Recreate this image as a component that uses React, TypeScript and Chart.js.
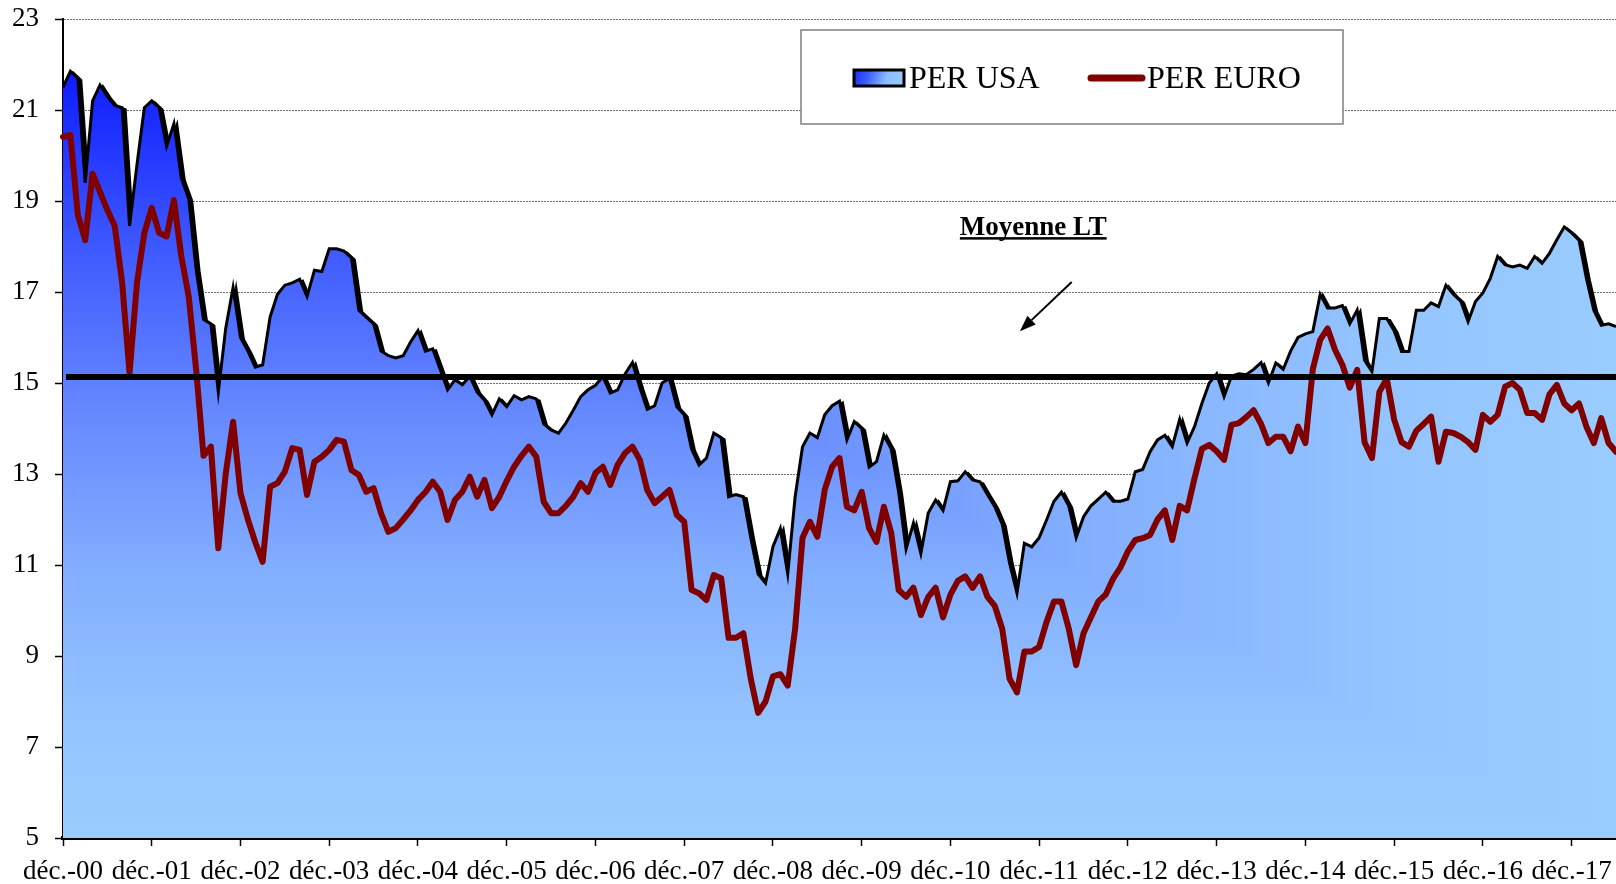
import React, { useEffect, useRef } from 'react';
import { Chart, registerables } from 'chart.js';

Chart.register(...registerables);

const FONT = "'Liberation Serif', 'Times New Roman', serif";

const MONTHS_FR = ['janv.', 'févr.', 'mars', 'avr.', 'mai', 'juin', 'juil.', 'août', 'sept.', 'oct.', 'nov.', 'déc.'];

// PER USA, monthly from déc. 2000
const PER_USA = [
  21.5, 21.85, 21.7, 19.4, 21.2, 21.55, 21.3, 21.1, 21.05, 18.45, 19.8, 21.05,
  21.2, 21.05, 20.2, 20.7, 19.5, 19.05, 17.5, 16.4, 16.3, 14.8, 16.2, 17.1,
  16.0, 15.7, 15.35, 15.4, 16.45, 16.95, 17.15, 17.2, 17.28, 16.9, 17.48, 17.45,
  17.95, 17.95, 17.9, 17.75, 16.6, 16.45, 16.3, 15.7, 15.6, 15.55, 15.6, 15.9,
  16.15, 15.7, 15.75, 15.3, 14.85, 15.07, 14.96, 15.15, 14.8, 14.62, 14.3, 14.65,
  14.48, 14.72, 14.63, 14.7, 14.65, 14.1, 13.97, 13.9, 14.12, 14.4, 14.7, 14.85,
  14.95, 15.14, 14.78, 14.85, 15.2, 15.45, 14.9, 14.42, 14.5, 15.0, 15.1, 14.48,
  14.3, 13.55, 13.2, 13.35, 13.9, 13.8, 12.5, 12.55, 12.5, 11.6, 10.8, 10.6,
  11.4, 11.8, 10.8, 12.5, 13.6, 13.9, 13.8, 14.3, 14.5, 14.6, 13.75, 14.15,
  14.0, 13.15, 13.27, 13.85, 13.55, 12.6, 11.35, 11.92, 11.25, 12.14, 12.43, 12.2,
  12.83, 12.85, 13.05, 12.87, 12.83, 12.55, 12.28, 11.9, 11.04, 10.38, 11.48, 11.4,
  11.6, 11.99, 12.4, 12.6, 12.3, 11.6, 12.06, 12.3, 12.45, 12.6, 12.4, 12.4,
  12.45, 13.05, 13.1, 13.49, 13.75, 13.85, 13.6, 14.2, 13.68, 14.04, 14.55, 15.0,
  15.2, 14.7, 15.15, 15.2, 15.18, 15.3, 15.45, 15.0, 15.44, 15.3, 15.7, 16.0,
  16.08, 16.13, 16.95, 16.65, 16.65, 16.7, 16.3, 16.6, 15.5, 15.25, 16.42, 16.42,
  16.15, 15.69, 15.69, 16.6, 16.6, 16.76, 16.68, 17.15, 16.95, 16.8, 16.35, 16.79,
  16.98, 17.3, 17.78, 17.6, 17.55, 17.59, 17.52, 17.78, 17.63, 17.85, 18.15, 18.43,
  18.3, 18.14, 17.3, 16.6, 16.27, 16.3, 16.24,
];

// PER EURO, monthly from déc. 2000
const PER_EURO = [
  20.41, 20.45, 18.7, 18.14, 19.6, 19.2, 18.8, 18.45, 17.2, 15.22, 17.2, 18.3,
  18.85, 18.3, 18.22, 19.02, 17.78, 16.9, 15.3, 13.4, 13.6, 11.37, 13.0, 14.15,
  12.58, 12.0, 11.5, 11.07, 12.72, 12.8, 13.05, 13.57, 13.53, 12.54, 13.27, 13.38,
  13.53, 13.75, 13.71, 13.09, 12.98, 12.61, 12.69, 12.14, 11.73, 11.81, 12.0, 12.2,
  12.43, 12.6, 12.83, 12.61, 11.99, 12.43, 12.61, 12.94, 12.5, 12.87, 12.25, 12.5,
  12.85, 13.16, 13.4, 13.6, 13.38, 12.39, 12.14, 12.14, 12.3, 12.5, 12.8, 12.61,
  13.02, 13.16, 12.76, 13.2, 13.46, 13.6, 13.31, 12.65, 12.36, 12.5, 12.65, 12.1,
  11.95, 10.45, 10.38, 10.23, 10.78, 10.71, 9.4, 9.4, 9.5, 8.5, 7.75, 8.0,
  8.55, 8.6, 8.35, 9.6, 11.6, 11.95, 11.62, 12.65, 13.16, 13.35, 12.28, 12.2,
  12.61, 11.81, 11.51, 12.28, 11.7, 10.45, 10.3, 10.5, 9.9, 10.3, 10.5, 9.85,
  10.35, 10.65, 10.75, 10.5, 10.75, 10.3, 10.1, 9.6, 8.5, 8.2, 9.1, 9.1,
  9.2, 9.75, 10.2, 10.2, 9.6, 8.8, 9.5, 9.85, 10.2, 10.35, 10.7, 10.95,
  11.3, 11.55, 11.59, 11.66, 12.0, 12.2, 11.55, 12.3, 12.2, 12.9, 13.55, 13.64,
  13.5, 13.31, 14.08, 14.12, 14.25, 14.4, 14.1, 13.68, 13.82, 13.82, 13.5, 14.04,
  13.68, 15.3, 15.95, 16.2, 15.73, 15.4, 14.9, 15.29, 13.7, 13.35, 14.8, 15.1,
  14.2, 13.7, 13.6, 13.95, 14.1, 14.26, 13.27, 13.93, 13.9, 13.82, 13.7, 13.53,
  14.3, 14.15, 14.3, 14.92, 15.0, 14.85, 14.34, 14.34, 14.19, 14.75, 14.96, 14.55,
  14.4, 14.55, 14.04, 13.68, 14.23, 13.68, 13.49,
];

const MOYENNE_LT = 15.13;
const Y_MIN = 5;
const Y_MAX = 23;
const Y_STEP = 2;
const LABEL_EVERY = 12;

const LABELS = PER_USA.map((_, i) => {
  const k = 11 + i;
  const yr = (2000 + Math.floor(k / 12)) % 100;
  return `${MONTHS_FR[k % 12]}-${String(yr).padStart(2, '0')}`;
});

const SERIES_NAMES = ['PER USA', 'PER EURO'];
const NOTE_TEXT = 'Moyenne LT';

// gradient colour stops (t from top-left corner to far edges)
const FILL_STOPS: [number, string][] = [
  [0, 'rgb(14,28,255)'],
  [0.25, 'rgb(66,94,255)'],
  [0.45, 'rgb(102,138,255)'],
  [0.65, 'rgb(130,174,255)'],
  [0.85, 'rgb(148,196,255)'],
  [1, 'rgb(153,204,255)'],
];

let patternCache: { key: string; pat: CanvasPattern | string } | null = null;

function areaFill(chart: any): CanvasPattern | string {
  const area = chart.chartArea;
  if (!area || !chart.scales || !chart.scales.y) return 'rgb(153,204,255)';
  const ys = chart.scales.y;
  const T = ys.getPixelForValue(Math.max(...PER_USA));
  const L = area.left, R = area.right, B = area.bottom;
  const key = [L, R, B, T, chart.width, chart.height].join(',');
  if (patternCache && patternCache.key === key) return patternCache.pat;
  const off = document.createElement('canvas');
  off.width = chart.width;
  off.height = chart.height;
  const g = off.getContext('2d')!;
  const vg = g.createLinearGradient(0, T, 0, B);
  FILL_STOPS.forEach(([t, c]) => vg.addColorStop(t, c));
  g.fillStyle = vg;
  g.fillRect(0, 0, off.width, off.height);
  g.save();
  g.beginPath();
  g.moveTo(L, T);
  g.lineTo(R, B);
  g.lineTo(off.width + 10, B);
  g.lineTo(off.width + 10, -10);
  g.lineTo(L, -10);
  g.closePath();
  g.clip();
  const hg = g.createLinearGradient(L, 0, R, 0);
  FILL_STOPS.forEach(([t, c]) => hg.addColorStop(t, c));
  g.fillStyle = hg;
  g.fillRect(0, 0, off.width, off.height);
  g.restore();
  const pat = chart.ctx.createPattern(off, 'no-repeat') || 'rgb(153,204,255)';
  patternCache = { key, pat };
  return pat;
}

const decorPlugin = {
  id: 'decor',
  beforeDatasetsDraw(chart: any) {
    // shadow of the PER USA area
    const meta = chart.getDatasetMeta(0);
    const pts = meta.data;
    if (!pts || !pts.length) return;
    const { ctx, chartArea } = chart;
    const dx = 3, dy = 2;
    ctx.save();
    ctx.beginPath();
    ctx.rect(chartArea.left, chartArea.top - 10, chartArea.right - chartArea.left, chartArea.bottom - chartArea.top + 10);
    ctx.clip();
    ctx.beginPath();
    pts.forEach((p: any, i: number) => {
      if (i === 0) ctx.moveTo(p.x + dx, p.y + dy);
      else ctx.lineTo(p.x + dx, p.y + dy);
    });
    ctx.lineWidth = 3;
    ctx.strokeStyle = '#000';
    ctx.stroke();
    ctx.lineTo(pts[pts.length - 1].x + dx, chartArea.bottom);
    ctx.lineTo(pts[0].x + dx, chartArea.bottom);
    ctx.closePath();
    ctx.fillStyle = '#000';
    ctx.fill();
    ctx.restore();
  },
  afterDatasetsDraw(chart: any) {
    const { ctx, chartArea } = chart;
    const xs = chart.scales.x;
    const ys = chart.scales.y;
    // long-term average line
    const yAvg = ys.getPixelForValue(MOYENNE_LT);
    ctx.save();
    ctx.strokeStyle = '#000';
    ctx.lineWidth = 6;
    ctx.beginPath();
    ctx.moveTo(chartArea.left + 3, yAvg);
    ctx.lineTo(chartArea.right, yAvg);
    ctx.stroke();

    // label
    const tx = xs.getPixelForValue(131.2);
    const ty = ys.getPixelForValue(18.25);
    ctx.font = `bold 27px ${FONT}`;
    ctx.textAlign = 'center';
    ctx.textBaseline = 'alphabetic';
    ctx.fillStyle = '#000';
    ctx.fillText(NOTE_TEXT, tx, ty);
    const w = ctx.measureText(NOTE_TEXT).width;
    ctx.fillRect(tx - w / 2, ty + 2, w, 2.5);

    // arrow
    const x1 = xs.getPixelForValue(136.4), y1 = ys.getPixelForValue(17.22);
    const x2 = xs.getPixelForValue(129.4), y2 = ys.getPixelForValue(16.14);
    const len = Math.hypot(x2 - x1, y2 - y1);
    const ux = (x2 - x1) / len, uy = (y2 - y1) / len;
    const head = 16, half = 6;
    const bx = x2 - ux * head, by = y2 - uy * head;
    ctx.lineWidth = 2;
    ctx.beginPath();
    ctx.moveTo(x1, y1);
    ctx.lineTo(bx, by);
    ctx.stroke();
    ctx.beginPath();
    ctx.moveTo(x2, y2);
    ctx.lineTo(bx - uy * half, by + ux * half);
    ctx.lineTo(bx + uy * half, by - ux * half);
    ctx.closePath();
    ctx.fill();
    ctx.restore();
  },
  afterDraw(chart: any) {
    const { ctx } = chart;
    ctx.save();
    // legend box
    ctx.fillStyle = '#fff';
    ctx.fillRect(801, 30, 542, 94);
    ctx.strokeStyle = '#7f7f7f';
    ctx.lineWidth = 1.5;
    ctx.strokeRect(801, 30, 542, 94);
    // swatch
    const sg = ctx.createLinearGradient(853, 70, 904, 86);
    sg.addColorStop(0, 'rgb(20,40,255)');
    sg.addColorStop(0.3, 'rgb(60,95,255)');
    sg.addColorStop(0.65, 'rgb(140,190,255)');
    sg.addColorStop(1, 'rgb(153,204,255)');
    ctx.fillStyle = sg;
    ctx.fillRect(854, 70, 50, 16);
    ctx.strokeStyle = '#000';
    ctx.lineWidth = 3;
    ctx.strokeRect(854, 70, 50, 16);
    ctx.font = `32px ${FONT}`;
    ctx.fillStyle = '#000';
    ctx.textAlign = 'left';
    ctx.textBaseline = 'alphabetic';
    ctx.fillText(SERIES_NAMES[0], 909, 88);
    // red line
    ctx.strokeStyle = '#800000';
    ctx.lineWidth = 7;
    ctx.lineCap = 'round';
    ctx.beginPath();
    ctx.moveTo(1091, 78);
    ctx.lineTo(1142, 78);
    ctx.stroke();
    ctx.fillText(SERIES_NAMES[1], 1147, 88);
    ctx.restore();
  },
};

export default function App() {
  const ref = useRef<HTMLCanvasElement | null>(null);
  useEffect(() => {
    if (!ref.current) return;
    const chart = new Chart(ref.current, {
      type: 'line',
      data: {
        labels: LABELS,
        datasets: [
          {
            label: SERIES_NAMES[0],
            data: PER_USA,
            order: 1,
            fill: 'start',
            backgroundColor: (c: any) => areaFill(c.chart),
            borderColor: '#000',
            borderWidth: 3,
            borderJoinStyle: 'miter',
            pointRadius: 0,
            tension: 0,
          },
          {
            label: SERIES_NAMES[1],
            data: PER_EURO,
            order: 0,
            fill: false,
            borderColor: '#800000',
            borderWidth: 6,
            borderJoinStyle: 'round',
            borderCapStyle: 'round',
            pointRadius: 0,
            tension: 0,
          },
        ],
      },
      options: {
        responsive: false,
        animation: false,
        layout: { padding: { top: 19, left: 0, right: 0, bottom: 0 } },
        plugins: {
          legend: { display: false },
          tooltip: { enabled: false },
        },
        scales: {
          x: {
            type: 'category',
            offset: false,
            grid: {
              display: true,
              drawOnChartArea: false,
              drawTicks: true,
              tickLength: 8,
              tickWidth: 1.5,
              tickColor: (c: any) => (c.index % LABEL_EVERY === 0 ? '#000' : 'rgba(0,0,0,0)'),
            },
            border: { display: true, color: '#000', width: 4 },
            ticks: {
              autoSkip: false,
              maxRotation: 0,
              minRotation: 0,
              padding: 10,
              color: '#000',
              font: { family: FONT, size: 27 },
              callback: (_v: any, i: number) => (i % LABEL_EVERY === 0 ? LABELS[i] : ''),
            },
            afterFit: (s: any) => {
              s.height = 46;
              s.paddingRight = 0;
            },
          },
          y: {
            min: Y_MIN,
            max: Y_MAX,
            ticks: {
              stepSize: Y_STEP,
              padding: 16,
              color: '#000',
              font: { family: FONT, size: 27 },
            },
            grid: {
              color: '#707070',
              lineWidth: 1,
              drawTicks: true,
              tickLength: 8,
              tickColor: '#000',
              tickWidth: 1.5,
            },
            border: { display: true, color: '#000', width: 2, dash: [2, 1] },
            afterFit: (s: any) => {
              s.width = 63;
              s.paddingTop = 0;
              s.paddingBottom = 0;
            },
          },
        },
      },
      plugins: [decorPlugin],
    } as any);
    return () => chart.destroy();
  }, []);
  return (
    <div style={{ position: 'absolute', left: 0, top: 0, width: 1616, height: 884, background: '#fff' }}>
      <canvas ref={ref} width={1616} height={884} style={{ display: 'block' }} />
    </div>
  );
}
